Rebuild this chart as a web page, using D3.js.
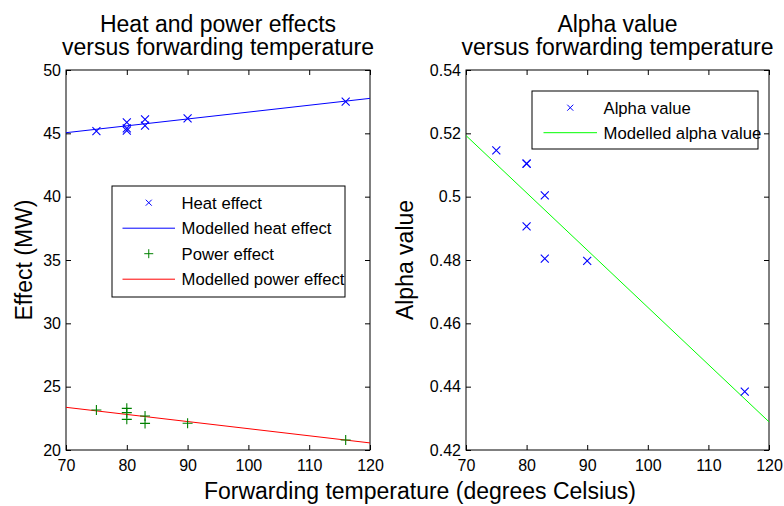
<!DOCTYPE html>
<html>
<head>
<meta charset="utf-8">
<script src="https://cdn.jsdelivr.net/npm/d3@7"></script>
<style>
  html, body { margin: 0; padding: 0; background: #fff; }
  svg { display: block; font-family: "Liberation Sans", Arial, sans-serif; }
</style>
</head>
<body>
<svg id="chart" width="784" height="506"></svg>
<script>
// ---------------- DATA ----------------
const temperature = [75, 80, 80, 80, 83, 83, 90, 116];
const heatEffect  = [45.18, 45.87, 45.40, 45.21, 46.10, 45.60, 46.18, 47.50];
const powerEffect = [23.16, 23.29, 22.95, 22.42, 22.68, 22.10, 22.11, 20.79];
const alphaValue  = [0.5146, 0.5104, 0.5104, 0.4906, 0.5004, 0.4804, 0.4797, 0.4384];

const fitTemperature = [70, 120];
const heatFit  = [45.05, 47.76];
const powerFit = [23.37, 20.56];
const alphaFit = [0.5193, 0.4289];

const xTicks      = [70, 80, 90, 100, 110, 120];
const effectTicks = [20, 25, 30, 35, 40, 45, 50];
const alphaTicks  = [0.42, 0.44, 0.46, 0.48, 0.5, 0.52, 0.54];
const alphaTickLabels = ["0.42", "0.44", "0.46", "0.48", "0.5", "0.52", "0.54"];

const leftTitle  = ["Heat and power effects", "versus forwarding temperature"];
const rightTitle = ["Alpha value", "versus forwarding temperature"];
const leftLegend  = ["Heat effect", "Modelled heat effect", "Power effect", "Modelled power effect"];
const rightLegend = ["Alpha value", "Modelled alpha value"];

// ---------------- LAYOUT ----------------
const svg = d3.select("#chart");
const FONT_TICK = 16, FONT_LABEL = 23, FONT_LEGEND = 16.7;
const TICK = 5;

const panels = [
  { x0: 66, x1: 370, y0: 70, y1: 450, ydom: [20, 50], yticks: effectTicks, yfmt: d => String(d),
    title: leftTitle, ylabel: "Effect (MW)", ylabelX: 32 },
  { x0: 466, x1: 769, y0: 70, y1: 450, ydom: [0.42, 0.54], yticks: alphaTicks,
    yfmt: (d, i) => alphaTickLabels[i], title: rightTitle, ylabel: "Alpha value", ylabelX: 413 }
];

panels.forEach(p => {
  p.x = d3.scaleLinear().domain([70, 120]).range([p.x0, p.x1]);
  p.y = d3.scaleLinear().domain(p.ydom).range([p.y1, p.y0]);
  const g = svg.append("g");

  // box
  g.append("rect").attr("x", p.x0).attr("y", p.y0)
    .attr("width", p.x1 - p.x0).attr("height", p.y1 - p.y0)
    .attr("fill", "#fff").attr("stroke", "#000").attr("stroke-width", 1);

  const styleAxis = (sel, labels) => {
    sel.select(".domain").remove();
    sel.selectAll(".tick line").attr("stroke", "#000");
    sel.selectAll(".tick text").attr("fill", "#000").style("font-size", FONT_TICK + "px");
    if (!labels) sel.selectAll(".tick text").remove();
  };

  g.append("g").attr("transform", `translate(0,${p.y1})`)
    .call(d3.axisBottom(p.x).tickValues(xTicks).tickSize(-TICK).tickPadding(10).tickFormat(d3.format("d")))
    .call(s => styleAxis(s, true));
  g.append("g").attr("transform", `translate(0,${p.y0})`)
    .call(d3.axisTop(p.x).tickValues(xTicks).tickSize(-TICK))
    .call(s => styleAxis(s, false));
  g.append("g").attr("transform", `translate(${p.x0},0)`)
    .call(d3.axisLeft(p.y).tickValues(p.yticks).tickSize(-TICK).tickPadding(5).tickFormat(p.yfmt))
    .call(s => styleAxis(s, true));
  g.append("g").attr("transform", `translate(${p.x1},0)`)
    .call(d3.axisRight(p.y).tickValues(p.yticks).tickSize(-TICK))
    .call(s => styleAxis(s, false));

  // title
  const cx = (p.x0 + p.x1) / 2;
  g.append("text").attr("x", cx).attr("y", 31.5).attr("text-anchor", "middle")
    .style("font-size", FONT_LABEL + "px").text(p.title[0]);
  g.append("text").attr("x", cx).attr("y", 55).attr("text-anchor", "middle")
    .style("font-size", FONT_LABEL + "px").text(p.title[1]);

  // y label
  g.append("text")
    .attr("transform", `translate(${p.ylabelX},${(p.y0 + p.y1) / 2}) rotate(-90)`)
    .attr("text-anchor", "middle").style("font-size", FONT_LABEL + "px").text(p.ylabel);
});

// x label
svg.append("text").attr("x", 420).attr("y", 499).attr("text-anchor", "middle")
  .style("font-size", FONT_LABEL + "px").text("Forwarding temperature (degrees Celsius)");

// ---------------- MARKS ----------------
const crossPath = (cx, cy, r) => `M${cx - r},${cy - r}L${cx + r},${cy + r}M${cx - r},${cy + r}L${cx + r},${cy - r}`;
const plusPath  = (cx, cy, r) => `M${cx - r},${cy}L${cx + r},${cy}M${cx},${cy - r}L${cx},${cy + r}`;

function fitLine(p, vals, color) {
  const line = d3.line().x(d => p.x(d[0])).y(d => p.y(d[1]));
  svg.append("path").datum(fitTemperature.map((t, i) => [t, vals[i]]))
    .attr("d", line).attr("fill", "none").attr("stroke", color).attr("stroke-width", 1);
}
function markers(p, vals, shape, r, color) {
  svg.append("g").selectAll("path").data(temperature.map((t, i) => [t, vals[i]])).join("path")
    .attr("d", d => shape(p.x(d[0]), p.y(d[1]), r))
    .attr("fill", "none").attr("stroke", color).attr("stroke-width", 1.1);
}

const L = panels[0], R = panels[1];
fitLine(L, heatFit, "#0000ff");
fitLine(L, powerFit, "#ff0000");
markers(L, heatEffect, crossPath, 4, "#0000ff");
markers(L, powerEffect, plusPath, 5, "#008000");

fitLine(R, alphaFit, "#00ff00");
markers(R, alphaValue, crossPath, 4, "#0000ff");

// ---------------- LEGENDS ----------------
function legend(box, rows, entries) {
  const g = svg.append("g");
  g.append("rect").attr("x", box.x).attr("y", box.y).attr("width", box.w).attr("height", box.h)
    .attr("fill", "#fff").attr("stroke", "#000").attr("stroke-width", 1);
  entries.forEach((e, i) => {
    const cy = box.y + rows.first + i * rows.step;
    if (e.type === "line") {
      g.append("line").attr("x1", box.x + rows.lineX0).attr("x2", box.x + rows.lineX1)
        .attr("y1", cy).attr("y2", cy).attr("stroke", e.color).attr("stroke-width", 1);
    } else {
      const mx = box.x + (rows.lineX0 + rows.lineX1) / 2;
      g.append("path").attr("d", e.shape(mx, cy, e.r)).attr("fill", "none")
        .attr("stroke", e.color).attr("stroke-width", 1);
    }
    g.append("text").attr("x", box.x + rows.textX).attr("y", cy + 6)
      .style("font-size", FONT_LEGEND + "px").text(e.label);
  });
}

legend({ x: 112, y: 186, w: 233, h: 111 },
  { first: 16.7, step: 25.5, lineX0: 10.5, lineX1: 63, textX: 69.5 },
  [
    { type: "marker", shape: crossPath, r: 3, color: "#0000ff", label: leftLegend[0] },
    { type: "line", color: "#0000ff", label: leftLegend[1] },
    { type: "marker", shape: plusPath, r: 4.5, color: "#008000", label: leftLegend[2] },
    { type: "line", color: "#ff0000", label: leftLegend[3] }
  ]);

legend({ x: 532, y: 91, w: 226, h: 58 },
  { first: 16.7, step: 25, lineX0: 11.5, lineX1: 65, textX: 71.5 },
  [
    { type: "marker", shape: crossPath, r: 3, color: "#0000ff", label: rightLegend[0] },
    { type: "line", color: "#00ff00", label: rightLegend[1] }
  ]);
</script>
</body>
</html>
